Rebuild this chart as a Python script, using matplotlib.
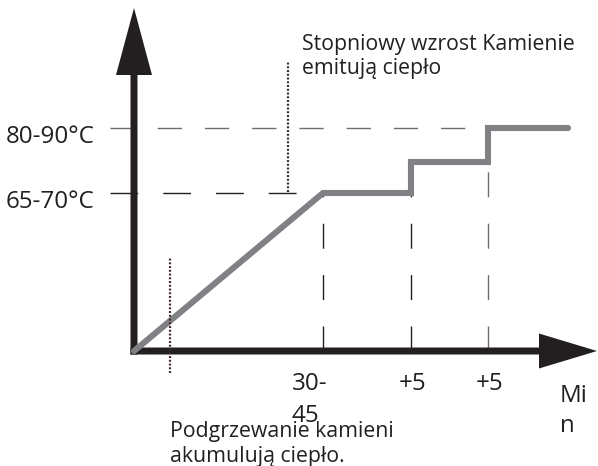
import matplotlib
matplotlib.use("Agg")
import matplotlib.pyplot as plt
from matplotlib.patches import FancyArrow

plt.rcParams['font.family'] = ['Open Sans', 'DejaVu Sans']
plt.rcParams['lines.scale_dashes'] = False

# dane schematu (jednostki wykresu, poczatek ukladu w rogu osi)
profil_x = [0, 189, 277, 277, 354, 354, 434]
profil_y = [0, 158, 158, 189, 189, 223, 223]

poziomy_y = [158, 223]
poziomy_etykiety = ['65-70°C', '80-90°C']
poziomy_koniec = [189, 354]

czas_x = [189, 277, 354]
czas_etykiety = [['30-', '45'], ['+5'], ['+5']]
czas_gora = [158, 189, 223]

opis_gora = ['Stopniowy wzrost Kamienie', 'emitują ciepło']
opis_dol = ['Podgrzewanie kamieni', 'akumulują ciepło.']
jednostka = ['Mi', 'n']

CZARNY = '#231f20'
SZARY = '#808184'
KROPKI = '#3d2b30'

fig = plt.figure(figsize=(5.98, 4.66), dpi=100)
ax = fig.add_axes([0, 0, 1, 1])
ax.set_xlim(-134, 464)
ax.set_ylim(-115, 351)
ax.axis('off')

# linie przerywane poziomow temperatury
ax.plot([-24, poziomy_koniec[0]], [poziomy_y[0]] * 2, color=CZARNY, lw=1.0,
        dashes=(20, 18), zorder=1)
ax.plot([-24, poziomy_koniec[1]], [poziomy_y[1]] * 2, color='#6d6e70', lw=1.0,
        dashes=(17.5, 16.5), zorder=1)

# pionowe linie przerywane od osi czasu
kolory_pion = [CZARNY, CZARNY, '#6d6e70']
for x, top, c in zip(czas_x, czas_gora, kolory_pion):
    ax.plot([x, x], [0, top], color=c, lw=1.0, dashes=(18, 19), zorder=1)

# kropkowane znaczniki opisow
ax.plot([154, 154], [159, 289], color=KROPKI, lw=1.6, dashes=(1.4, 1.3), zorder=1)
ax.plot([36, 36], [-22, 93], color=KROPKI, lw=1.6, dashes=(1.4, 1.3), zorder=4)

# profil temperatury
ax.plot(profil_x, profil_y, color=SZARY, lw=4.4, solid_capstyle='round',
        solid_joinstyle='miter', zorder=3)

# osie ze strzalkami
ax.add_patch(FancyArrow(0, -3.5, 0, 346.5, width=7, head_width=36, head_length=67,
                        length_includes_head=True, color=CZARNY, lw=0, zorder=2))
ax.add_patch(FancyArrow(-3.5, 0, 466.5, 0, width=7, head_width=35, head_length=58,
                        length_includes_head=True, color=CZARNY, lw=0, zorder=2))

# etykiety temperatur
for y, lab in zip(poziomy_y, poziomy_etykiety):
    ax.text(-128, y - 15, lab, ha='left', va='baseline', fontsize=17.4, color=CZARNY)

# etykiety czasu
for i, line in enumerate(czas_etykiety[0]):
    ax.text(czas_x[0] - 31, -39 - 32 * i, line, ha='left', va='baseline',
            fontsize=17.4, color=CZARNY)
for x, lab in zip(czas_x[1:], czas_etykiety[1:]):
    ax.text(x + 2, -39, lab[0], ha='center', va='baseline', fontsize=17.4, color=CZARNY)
for i, line in enumerate(jednostka):
    ax.text(426, -51 - 30 * i, line, ha='left', va='baseline', fontsize=17.4,
            color=CZARNY)

# opisy
for i, line in enumerate(opis_gora):
    ax.text(168, 301 - 24 * i, line, ha='left', va='baseline', fontsize=15.3,
            color=CZARNY)
for i, line in enumerate(opis_dol):
    ax.text(36, -86 - 25 * i, line, ha='left', va='baseline', fontsize=15.3,
            color=CZARNY)

fig.savefig('out.png', dpi=100)
